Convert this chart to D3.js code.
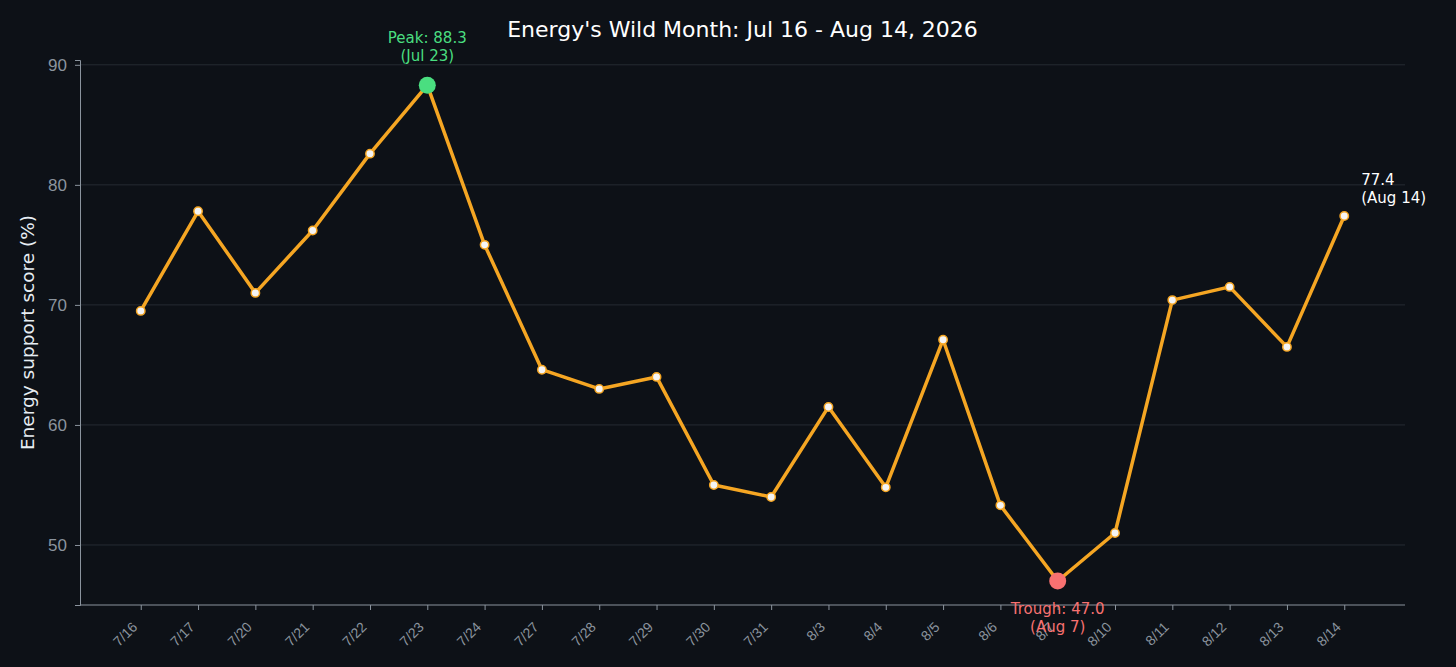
<!DOCTYPE html>
<html>
<head>
    <title>Energy's Wild Month</title>
    <script src="https://d3js.org/d3.v7.min.js"></script>
    <style>
        body { margin: 0; background: #0d1117; }
        svg { display: block; font-family: "DejaVu Sans", sans-serif; }
    </style>
</head>
<body>
    <div id="chart"></div>

    <script>
        // Trading days and support score
        var days = ["7/16", "7/17", "7/20", "7/21", "7/22", "7/23", "7/24", "7/27", "7/28", "7/29",
                    "7/30", "7/31", "8/3", "8/4", "8/5", "8/6", "8/7", "8/10", "8/11", "8/12", "8/13", "8/14"];
        var scores = [69.5, 77.8, 71.0, 76.2, 82.6, 88.3, 75.0, 64.6, 63.0, 64.0,
                      55.0, 54.0, 61.5, 54.8, 67.1, 53.3, 47.0, 51.0, 70.4, 71.5, 66.5, 77.4];
        var yTicks = [50, 60, 70, 80, 90];
        var longNames = {"7/23": "Jul 23", "8/7": "Aug 7", "8/14": "Aug 14"};

        var width = 1456, height = 667;
        var margin = {top: 60, right: 51, bottom: 62, left: 80};

        var svg = d3.select("#chart").append("svg")
            .attr("width", width)
            .attr("height", height);

        svg.append("rect")
            .attr("width", width).attr("height", height)
            .attr("fill", "#0d1117");

        var x = d3.scalePoint()
            .domain(days)
            .range([margin.left, width - margin.right])
            .padding(1.06);

        var y = d3.scaleLinear()
            .domain([45, 90.4])
            .range([height - margin.bottom, margin.top]);

        // grid
        svg.append("g").selectAll("line")
            .data(yTicks)
            .enter().append("line")
            .attr("x1", margin.left).attr("x2", width - margin.right)
            .attr("y1", function(d) { return y(d); })
            .attr("y2", function(d) { return y(d); })
            .attr("stroke", "#262b33")
            .attr("stroke-width", 1);

        // y axis
        var yAxis = svg.append("g")
            .attr("transform", "translate(" + margin.left + ",0)")
            .call(d3.axisLeft(y).tickValues(yTicks).tickSize(5).tickPadding(8));
        yAxis.select(".domain").attr("stroke", "#8b949e");
        yAxis.selectAll(".tick line").attr("stroke", "#8b949e");
        yAxis.selectAll(".tick text")
            .attr("fill", "#8b949e")
            .style("font-size", "17px");

        // x axis
        var xAxis = svg.append("g")
            .attr("transform", "translate(0," + (height - margin.bottom) + ")")
            .call(d3.axisBottom(x).tickSize(5));
        xAxis.select(".domain").attr("stroke", "#8b949e").attr("d",
            "M" + margin.left + ",0H" + (width - margin.right));
        xAxis.selectAll(".tick line").attr("stroke", "#8b949e");
        xAxis.selectAll(".tick text")
            .attr("fill", "#8b949e")
            .style("font-size", "14px")
            .attr("text-anchor", "end")
            .attr("x", 0).attr("y", 0).attr("dy", 0)
            .attr("transform", "translate(-3,23) rotate(-45)");

        // axis label
        svg.append("text")
            .attr("transform", "translate(34," + ((margin.top + height - margin.bottom) / 2) + ") rotate(-90)")
            .attr("text-anchor", "middle")
            .attr("fill", "#e6edf3")
            .style("font-size", "18.5px")
            .text("Energy support score (%)");

        // title
        svg.append("text")
            .attr("x", (margin.left + width - margin.right) / 2)
            .attr("y", 37)
            .attr("text-anchor", "middle")
            .attr("fill", "#ffffff")
            .style("font-size", "22px")
            .text("Energy's Wild Month: Jul 16 - Aug 14, 2026");

        // line
        var line = d3.line()
            .x(function(d, i) { return x(days[i]); })
            .y(function(d) { return y(d); });

        svg.append("path")
            .datum(scores)
            .attr("d", line)
            .attr("fill", "none")
            .attr("stroke", "#f5a623")
            .attr("stroke-width", 3.5)
            .attr("stroke-linejoin", "round");

        svg.append("g").selectAll("circle")
            .data(scores)
            .enter().append("circle")
            .attr("cx", function(d, i) { return x(days[i]); })
            .attr("cy", function(d) { return y(d); })
            .attr("r", 4.2)
            .attr("fill", "#f4f4f4")
            .attr("stroke", "#f5a623")
            .attr("stroke-width", 1.5);

        // peak and trough
        var maxV = d3.max(scores), minV = d3.min(scores);
        var iMax = scores.indexOf(maxV), iMin = scores.indexOf(minV);

        svg.append("circle")
            .attr("cx", x(days[iMax])).attr("cy", y(maxV))
            .attr("r", 8.5).attr("fill", "#4ade80");
        svg.append("circle")
            .attr("cx", x(days[iMin])).attr("cy", y(minV))
            .attr("r", 8.5).attr("fill", "#f87171");

        function note(px, py, lines, color, anchor) {
            var t = svg.append("text")
                .attr("x", px).attr("y", py)
                .attr("text-anchor", anchor)
                .attr("fill", color)
                .style("font-size", "15px");
            lines.forEach(function(s, k) {
                t.append("tspan").attr("x", px).attr("dy", k === 0 ? 0 : "1.2em").text(s);
            });
        }

        note(x(days[iMax]), y(maxV) - 42, ["Peak: " + maxV.toFixed(1), "(" + longNames[days[iMax]] + ")"], "#4ade80", "middle");
        note(x(days[iMin]), y(minV) + 33, ["Trough: " + minV.toFixed(1), "(" + longNames[days[iMin]] + ")"], "#f87171", "middle");

        var last = scores.length - 1;
        note(x(days[last]) + 17, y(scores[last]) - 31, [scores[last].toFixed(1), "(" + longNames[days[last]] + ")"], "#ffffff", "start");
    </script>
</body>
</html>
